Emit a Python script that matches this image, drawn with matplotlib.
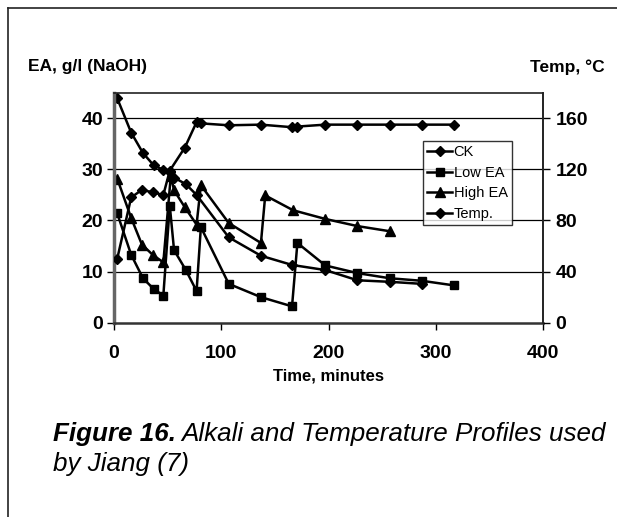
import matplotlib
matplotlib.use("Agg")
import matplotlib.pyplot as plt
from matplotlib.lines import Line2D

plt.rcParams["font.family"] = ["Liberation Sans", "DejaVu Sans"]

# CK cook (left axis, g/l NaOH)
time_ck = [3, 16, 27, 37, 46, 52, 56, 67, 77, 107, 137, 166, 197, 227, 257, 287]
ea_ck = [43.9, 37.2, 33.2, 30.8, 29.9, 29.4, 28.4, 27.1, 25.0, 16.7, 13.1, 11.3, 10.3, 8.3, 8.0, 7.6]

# Low EA profile
time_low = [3, 16, 27, 37, 46, 52, 56, 67, 77, 81, 107, 137, 166, 171, 197, 227, 257, 287, 317]
ea_low = [21.4, 13.3, 8.7, 6.6, 5.3, 22.9, 14.2, 10.3, 6.2, 18.7, 7.6, 5.0, 3.2, 15.6, 11.2, 9.7, 8.7, 8.2, 7.3]

# High EA profile
time_high = [3, 16, 26, 36, 46, 53, 56, 66, 77, 81, 107, 137, 141, 167, 197, 227, 257]
ea_high = [28.2, 20.5, 15.3, 13.3, 11.8, 28.8, 25.9, 22.6, 19.2, 26.9, 19.5, 15.6, 24.9, 22.0, 20.3, 18.9, 17.9]

# Temperature (right axis, deg C)
time_temp = [3, 16, 26, 36, 46, 52, 66, 77, 81, 107, 137, 166, 171, 197, 227, 257, 287, 317]
temp_c = [50, 98, 104, 102, 100, 119, 137, 157, 156, 154.5, 155, 153, 153.5, 155, 155, 155, 155, 155]

left_ticks = [0, 10, 20, 30, 40]
right_ticks = [0, 40, 80, 120, 160]
x_ticks = [0, 100, 200, 300, 400]

W, H = 617, 517
fig = plt.figure(figsize=(W / 100, H / 100), dpi=100)
fig.patch.set_facecolor("white")

# page frame (top and left edges only visible)
fig.add_artist(Line2D([8 / W, 1], [1 - 8 / H, 1 - 8 / H], color="#222222", lw=1.2))
fig.add_artist(Line2D([8 / W, 8 / W], [0, 1 - 8 / H], color="#222222", lw=1.2))

ax = fig.add_axes([114 / W, 1 - 322.7 / H, (543 - 114) / W, (322.7 - 92.7) / H])
ax2 = ax.twinx()

kw = dict(color="black", lw=1.8)
ax.plot(time_ck, ea_ck, marker="D", ms=5, label="CK", **kw)
ax.plot(time_low, ea_low, marker="s", ms=6, label="Low EA", **kw)
ax.plot(time_high, ea_high, marker="^", ms=6.5, label="High EA", **kw)
ax2.plot(time_temp, temp_c, marker="D", ms=5, label="Temp.", **kw)

ax.set_xlim(0, 400)
ax.set_ylim(0, 45)
ax2.set_ylim(0, 180)
ax.set_xticks(x_ticks)
ax.set_yticks(left_ticks)
ax2.set_yticks(right_ticks)

for y in left_ticks[1:]:
    ax.axhline(y, color="black", lw=0.9, zorder=0)

ax.tick_params(axis="x", direction="out", length=5, width=1, pad=11)
ax.tick_params(axis="y", direction="out", length=5, width=1, pad=3)
ax2.tick_params(axis="y", direction="out", length=5, width=1, pad=4)
for lbl in ax.get_xticklabels() + ax.get_yticklabels() + ax2.get_yticklabels():
    lbl.set_fontsize(14)
    lbl.set_fontweight("bold")

for s in ax.spines.values():
    s.set_color("#222222")
    s.set_linewidth(1.2)
ax.spines["left"].set_color("#666666")
ax.spines["left"].set_linewidth(2.5)
ax.spines["bottom"].set_color("#333333")
ax.spines["bottom"].set_linewidth(1.8)
for s in ax2.spines.values():
    s.set_visible(False)
ax2.spines["right"].set_visible(True)
ax2.spines["right"].set_color("#222222")
ax2.spines["right"].set_linewidth(1.2)

ax.set_xlabel("Time, minutes", fontsize=12, fontweight="bold", labelpad=5)
fig.text(28 / W, 1 - 67 / H, "EA, g/l (NaOH)", fontsize=12.5, fontweight="bold",
         ha="left", va="center")
fig.text(605 / W, 1 - 67 / H, "Temp, °C", fontsize=12.5, fontweight="bold",
         ha="right", va="center")

h1, l1 = ax.get_legend_handles_labels()
h2, l2 = ax2.get_legend_handles_labels()
leg = ax2.legend(h1 + h2, l1 + l2, loc="upper left", bbox_to_anchor=(0.72, 0.79),
                 fontsize=10.5, frameon=True, fancybox=False, handlelength=1.7,
                 handletextpad=0.1, borderpad=0.3, labelspacing=0.45,
                 borderaxespad=0)
leg.get_frame().set_edgecolor("black")
leg.get_frame().set_linewidth(1.0)

# caption: bold italic label followed by italic text
cap_y = 1 - 441 / H
t1 = fig.text(53 / W, cap_y, "Figure 16.", fontsize=18.7, fontweight="bold",
              fontstyle="italic", ha="left", va="baseline")
fig.canvas.draw()
bb = t1.get_window_extent(fig.canvas.get_renderer())
fig.text(bb.x1 / W + 5 / W, cap_y, "Alkali and Temperature Profiles used", fontsize=18.7,
         fontstyle="italic", ha="left", va="baseline")
fig.text(53 / W, 1 - 471 / H, "by Jiang (7)", fontsize=18.7, fontstyle="italic",
         ha="left", va="baseline")

fig.savefig("out.png", dpi=100, facecolor="white")
